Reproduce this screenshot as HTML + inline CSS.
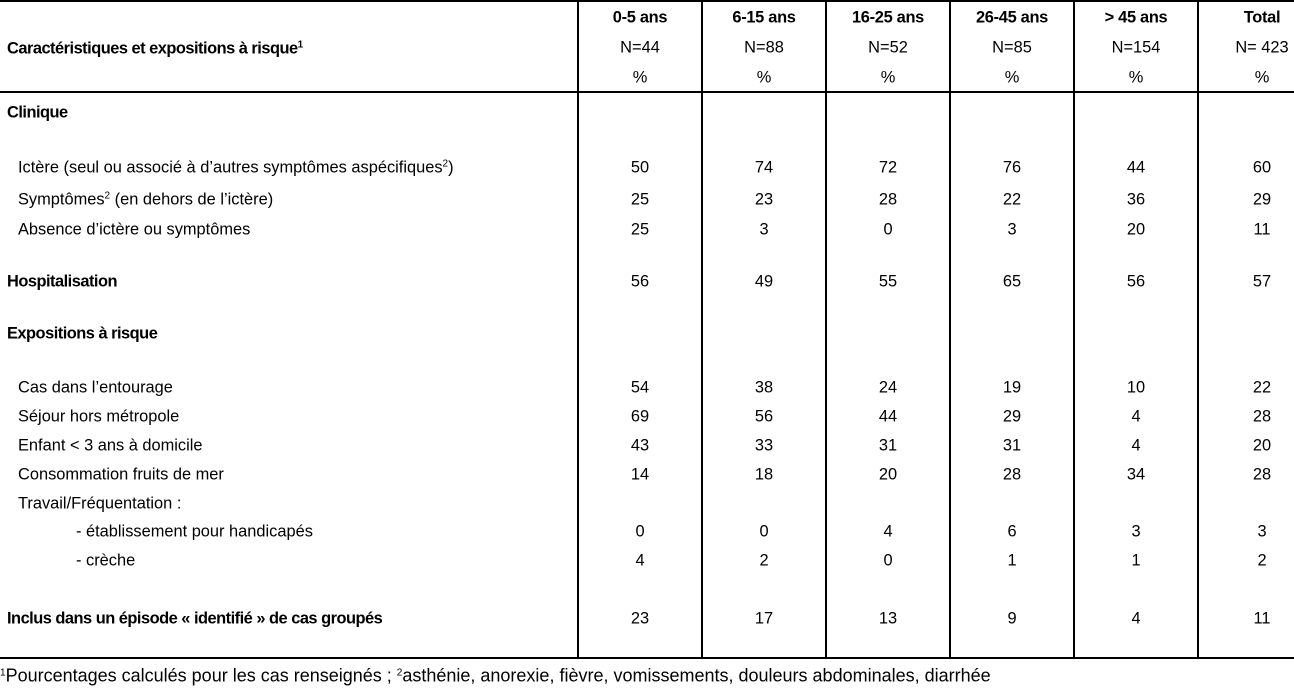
<!DOCTYPE html>
<html><head><meta charset="utf-8"><style>
body{margin:0;width:1294px;height:689px;background:#fff;position:relative;overflow:hidden;font-family:"Liberation Sans",sans-serif;color:#000}
.h{position:absolute;height:2px;background:#000;left:0;width:1294px}
.v{position:absolute;width:2px;background:#000;top:0;height:658px}
.t{position:absolute;font-size:16.4px;white-space:nowrap;transform:translateY(-50%)}
.b{font-weight:bold;letter-spacing:-0.5px}
.c{position:absolute;font-size:16.4px;width:124px;text-align:center;transform:translateY(-50%)}
.c.b{letter-spacing:-0.3px}
sup{font-size:10px;vertical-align:6px;line-height:0}
</style></head><body>
<div class="h" style="top:0"></div>
<div class="h" style="top:91px"></div>
<div class="h" style="top:657px"></div>
<div class="v" style="left:577px"></div>
<div class="v" style="left:701px"></div>
<div class="v" style="left:825px"></div>
<div class="v" style="left:949px"></div>
<div class="v" style="left:1073px"></div>
<div class="v" style="left:1197px"></div>

<div class="t b" style="left:7px;top:49px">Caractéristiques et expositions à risque<sup>1</sup></div>
<div class="t b" style="left:7px;top:113px">Clinique</div>
<div class="t" style="left:18px;top:168px">Ictère (seul ou associé à d’autres symptômes aspécifiques<sup>2</sup>)</div>
<div class="t" style="left:18px;top:200px">Symptômes<sup>2</sup> (en dehors de l’ictère)</div>
<div class="t" style="left:18px;top:230px">Absence d’ictère ou symptômes</div>
<div class="t b" style="left:7px;top:282px">Hospitalisation</div>
<div class="t b" style="left:7px;top:334px">Expositions à risque</div>
<div class="t" style="left:18px;top:388px">Cas dans l’entourage</div>
<div class="t" style="left:18px;top:417px">Séjour hors métropole</div>
<div class="t" style="left:18px;top:446px">Enfant &lt; 3 ans à domicile</div>
<div class="t" style="left:18px;top:475px">Consommation fruits de mer</div>
<div class="t" style="left:18px;top:504px">Travail/Fréquentation :</div>
<div class="t" style="left:76px;top:532px">- établissement pour handicapés</div>
<div class="t" style="left:76px;top:561px">- crèche</div>
<div class="t b" style="left:7px;top:619px">Inclus dans un épisode « identifié » de cas groupés</div>
<div class="t" style="left:0px;top:676px;font-size:18px"><sup>1</sup>Pourcentages calculés pour les cas renseignés ; <sup>2</sup>asthénie, anorexie, fièvre, vomissements, douleurs abdominales, diarrhée</div>

<div id="cols"></div>
<script>
var L=[578,702,826,950,1074,1198];
var hd=[["0-5 ans","N=44"],["6-15 ans","N=88"],["16-25 ans","N=52"],["26-45 ans","N=85"],["> 45 ans","N=154"],["Total","N= 423"]];
var rows=[[168,[50,74,72,76,44,60]],[200,[25,23,28,22,36,29]],[230,[25,3,0,3,20,11]],[282,[56,49,55,65,56,57]],[388,[54,38,24,19,10,22]],[417,[69,56,44,29,4,28]],[446,[43,33,31,31,4,20]],[475,[14,18,20,28,34,28]],[532,[0,0,4,6,3,3]],[561,[4,2,0,1,1,2]],[619,[23,17,13,9,4,11]]];
var h="";
for(var i=0;i<6;i++){
 var x=L[i]+(i==5?2:0);
 h+='<div class="c b" style="left:'+x+'px;top:18px">'+hd[i][0].replace('>','&gt;')+'</div>';
 h+='<div class="c" style="left:'+x+'px;top:48px">'+hd[i][1]+'</div>';
 h+='<div class="c" style="left:'+x+'px;top:78px">%</div>';
 rows.forEach(function(r){h+='<div class="c" style="left:'+x+'px;top:'+r[0]+'px">'+r[1][i]+'</div>';});
}
document.getElementById('cols').innerHTML=h;
</script>
</body></html>
